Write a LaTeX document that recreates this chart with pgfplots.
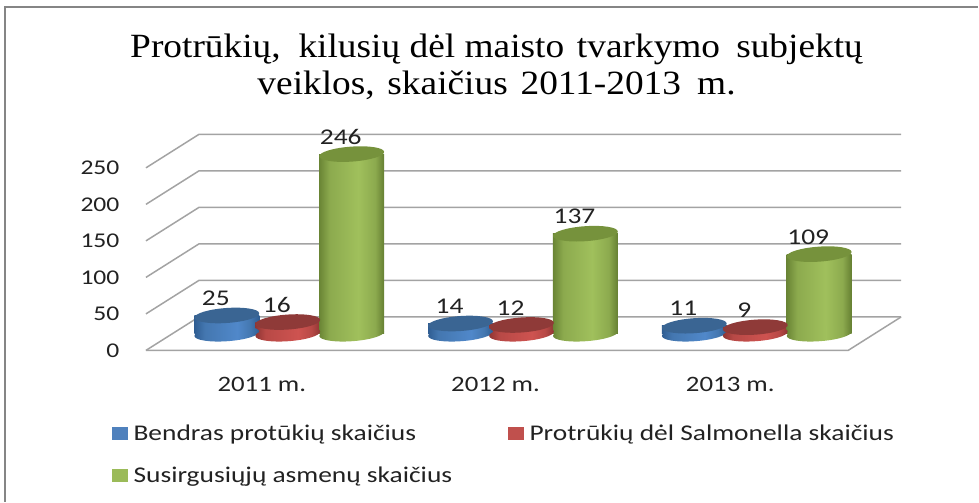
\documentclass[border=0pt]{standalone}
\usepackage{fontspec}
\usepackage{pgfplots}
\pgfplotsset{compat=1.18}
\setmainfont[FakeStretch=1.22]{Carlito}
\newfontfamily\titlefont[FakeStretch=1.1]{Liberation Serif}
\definecolor{gridc}{HTML}{A3A3A3}
\definecolor{framec}{HTML}{858585}
\definecolor{txt}{HTML}{222222}
\definecolor{blueleg}{HTML}{4F81BD}
\definecolor{redleg}{HTML}{C0504D}
\definecolor{greenleg}{HTML}{9BBB59}
\definecolor{bluetop}{HTML}{3A6593}
\definecolor{redtop}{HTML}{8F3A38}
\definecolor{greentop}{HTML}{76923C}
\definecolor{ba}{HTML}{2F5D92}\definecolor{bb}{HTML}{4477B0}\definecolor{bc}{HTML}{5088CA}
\definecolor{ra}{HTML}{8E3533}\definecolor{rb}{HTML}{B84946}\definecolor{rc}{HTML}{CE5350}
\definecolor{ga}{HTML}{6A8535}\definecolor{gb}{HTML}{8CAA4E}\definecolor{gc}{HTML}{A0C05C}\definecolor{gd}{HTML}{657F32}
\pgfdeclarehorizontalshading{blueC}{100bp}{color(0bp)=(ba); color(25bp)=(ba); color(33bp)=(bb); color(58bp)=(bc); color(68bp)=(bb); color(75bp)=(ba); color(100bp)=(ba)}
\pgfdeclarehorizontalshading{redC}{100bp}{color(0bp)=(ra); color(25bp)=(ra); color(33bp)=(rb); color(58bp)=(rc); color(68bp)=(rb); color(75bp)=(ra); color(100bp)=(ra)}
\pgfdeclarehorizontalshading{greenC}{100bp}{color(0bp)=(ga); color(25bp)=(ga); color(33bp)=(gb); color(55bp)=(gc); color(68bp)=(gb); color(75bp)=(gd); color(100bp)=(gd)}
\newcommand\mkmarks[3]{%
  \pgfdeclareplotmark{bot#1}{\pgftransformrotate{4}\pgfpathellipse{\pgfpointorigin}{\pgfqpoint{32.5pt}{0pt}}{\pgfqpoint{0pt}{7.5pt}}\pgfshadepath{#2}{0}\pgfusepath{discard}}%
  \pgfdeclareplotmark{top#1}{\pgfsetfillcolor{#3}\pgftransformrotate{4}\pgfpathellipse{\pgfpointorigin}{\pgfqpoint{32.5pt}{0pt}}{\pgfqpoint{0pt}{7.5pt}}\pgfusepath{fill}}%
}
\mkmarks{b}{blueC}{bluetop}
\mkmarks{r}{redC}{redtop}
\mkmarks{g}{greenC}{greentop}
\pgfplotsset{base/.style={
  width=979pt,height=502pt,scale only axis,
  xmin=0,xmax=979,clip=false,
  enlargelimits=false},
  bbar/.style={ybar,bar width=65pt,bar shift=0pt,draw=none,shade,shading=#1}}
\tikzset{vlabel/.style={font=\fontsize{22.5}{24}\selectfont,text=txt,anchor=center,xshift=-11pt,yshift=17pt,inner sep=0pt}}
% one cylinder: x, value, mark letter, shading
\newcommand\cyl[4]{%
  \addplot[only marks,mark=bot#3,forget plot] coordinates {(#1,0)};
  \addplot[bbar=#4,forget plot] coordinates {(#1,#2)};
  \addplot[only marks,mark=top#3,forget plot,nodes near coords,every node near coord/.style={vlabel}] coordinates {(#1,#2)};
}
\begin{document}
\begin{tikzpicture}
\begin{axis}[base,
  ymin=-206.98,ymax=479.75,
  axis line style={draw=none},
  major tick length=0pt,
  xtick={262,496,731},
  xticklabels={2011 m.,2012 m.,2013 m.},
  ytick={0,50,100,150,200,250},
  tick label style={font=\fontsize{21}{24}\selectfont,text=txt},
  x tick label style={font=\fontsize{22}{24}\selectfont},
  /pgf/number format/assume math mode=true,
  y tick label style={xshift=123pt},
  x tick label style={yshift=128pt},
  title={Protrūkių,\hspace{0.25em} kilusių dėl maisto\hspace{0.1em} tvarkymo\hspace{0.2em} subjektų\\veiklos,\hspace{0.1em} skaičius\hspace{0.1em} 2011-2013\hspace{0.2em} m.},
  title style={at={(axis cs:497,425)},anchor=north,align=center,inner sep=0pt,text=black,font=\titlefont\fontsize{34}{37}\selectfont},
]
\addplot[framec,line width=2pt,forget plot] coordinates {(5,-206.98) (5,470.3) (979,470.3)};
\addplot[gridc,line width=1.5pt] coordinates {(146,0) (199,45.8) (902,45.8)};
\addplot[gridc,line width=1.5pt] coordinates {(146,50) (199,95.8) (902,95.8)};
\addplot[gridc,line width=1.5pt] coordinates {(146,100) (199,145.8) (902,145.8)};
\addplot[gridc,line width=1.5pt] coordinates {(146,150) (199,195.8) (902,195.8)};
\addplot[gridc,line width=1.5pt] coordinates {(146,200) (199,245.8) (902,245.8)};
\addplot[gridc,line width=1.5pt] coordinates {(146,250) (199,295.8) (902,295.8)};
\addplot[gridc,line width=1.5pt] coordinates {(902,45.8) (849,0) (146,0)};
\end{axis}
\begin{axis}[base,hide axis,
  ymin=-229.8,ymax=456.9,
  /pgf/number format/assume math mode=true,
  legend columns=2,
  legend cell align=left,
  legend style={at={(axis cs:112,-122)},anchor=north west,draw=none,fill=none,inner sep=0pt,
    font=\fontsize{22.5}{24}\selectfont,text=txt,
    /tikz/every odd column/.append style={column sep=4pt},
    /tikz/every even column/.append style={column sep=54pt},
    row sep=21pt},
]
\cyl{227}{25}{b}{blueC}
\cyl{288}{16}{r}{redC}
\cyl{352}{246}{g}{greenC}
\cyl{461}{14}{b}{blueC}
\cyl{522}{12}{r}{redC}
\cyl{586}{137}{g}{greenC}
\cyl{695}{11}{b}{blueC}
\cyl{756}{9}{r}{redC}
\cyl{820}{109}{g}{greenC}
\addlegendimage{legend image code/.code={\fill[blueleg] (0pt,-6pt) rectangle (15pt,6pt);}}
\addlegendentry{Bendras protūkių skaičius}
\addlegendimage{legend image code/.code={\fill[redleg] (0pt,-6pt) rectangle (15pt,6pt);}}
\addlegendentry{Protrūkių dėl Salmonella skaičius}
\addlegendimage{legend image code/.code={\fill[greenleg] (0pt,-6pt) rectangle (15pt,6pt);}}
\addlegendentry{Susirgusiųjų asmenų skaičius}
\end{axis}
\end{tikzpicture}
\end{document}
